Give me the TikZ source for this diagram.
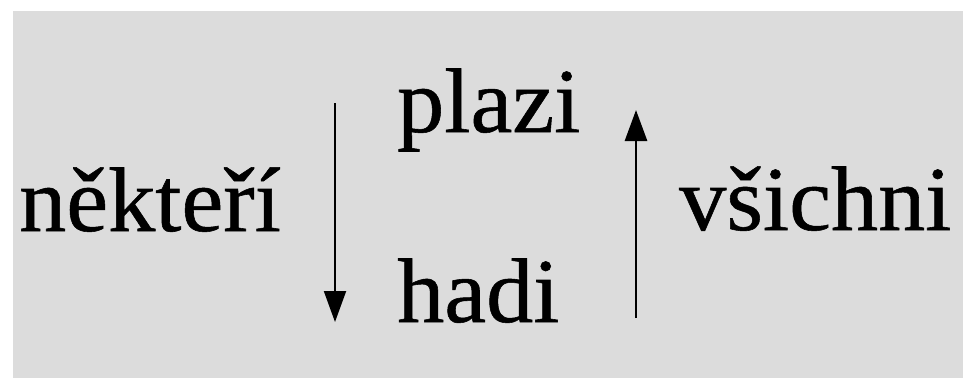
\documentclass[tikz,border=0pt]{standalone}
\usepackage{fontspec}
\setmainfont[FakeStretch=1.03, FakeBold=0.6]{Liberation Serif}
\usetikzlibrary{positioning, arrows.meta}
\definecolor{bggray}{HTML}{DCDCDC}

\begin{document}
\begin{tikzpicture}[x=1pt, y=1pt,
	word/.style={inner sep=0pt, anchor=base west, font=\fontsize{91.5pt}{110pt}\selectfont},
	pointer/.style={-{Triangle[length=31pt, width=22pt]}}]
	\useasboundingbox (0,0) rectangle (963,-378);
	\fill[bggray] (13,-11) rectangle (963,-378);

	\node[word] (plazi) at (397,-132) {plazi};
	\node[word, below=190pt of plazi.base west, anchor=base west] (hadi) {hadi};
	\node[word] (nekteri) at (19,-231) {někteří};
	\node[word] (vsichni) at (679,-230) {všichni};

	\coordinate (dtop) at (335,-103);
	\coordinate (dbot) at (335,-322);
	\coordinate (ubot) at (636,-318);
	\coordinate (utop) at (636,-110);

	\draw[pointer, line width=2pt] (dtop) -- (dbot);
	\draw[pointer, line width=2.8pt] (ubot) -- (utop);
\end{tikzpicture}
\end{document}
